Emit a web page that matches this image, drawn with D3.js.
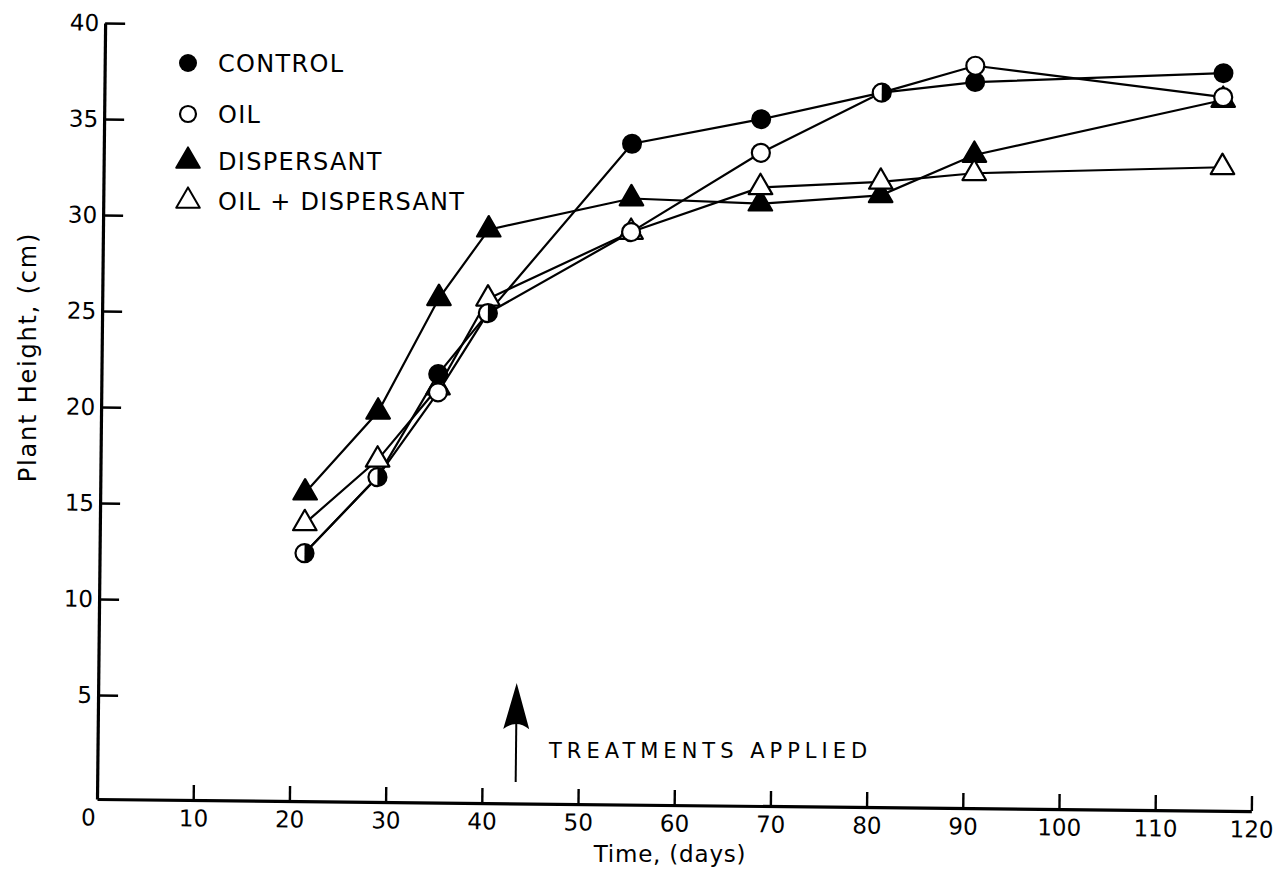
<!DOCTYPE html>
<html>
<head>
<meta charset="utf-8">
<script src="https://cdn.jsdelivr.net/npm/d3@7"></script>
<style>
  html, body { margin: 0; padding: 0; background: #fff; }
  svg { display: block; }
  text { font-family: "DejaVu Sans", "Liberation Sans", Arial, sans-serif; fill: #000; }
</style>
</head>
<body>
<svg id="chart" width="1277" height="882"></svg>
<script>
// ---- data ----
const days = [21.3, 28.8, 35.0, 40.1, 54.9, 68.3, 80.8, 90.5, 116.3];
const control = [12.5, 16.5, 21.9, 25.1, 34.0, 35.35, 36.8, 37.4, 38.0];
const oil = [12.5, 16.5, 20.95, 25.1, 29.4, 33.6, 36.8, 38.25, 36.75];
const dispersant = [15.65, 19.9, 25.85, 29.45, 31.15, 30.95, 31.45, 33.6, 36.6];
const oilDispersant = [14.05, 17.4, 21.2, 25.85, 29.4, 31.8, 32.15, 32.65, 33.1];
const seriesNames = ["CONTROL", "OIL", "DISPERSANT", "OIL + DISPERSANT"];
const xTicks = [0, 10, 20, 30, 40, 50, 60, 70, 80, 90, 100, 110, 120];
const yTicks = [5, 10, 15, 20, 25, 30, 35, 40];
const treatmentDay = 43.5;
const treatmentArrow = [0.7, 5.85];
const treatmentLabel = "TREATMENTS APPLIED";
const xTitle = "Time, (days)";
const yTitle = "Plant Height,  (cm)";

// ---- layout ----
const FONT = "DejaVu Sans, Liberation Sans, Arial, sans-serif";
const svg = d3.select("#chart");
const originX = 97, originY = 799, tilt = 0.6;
const x = d3.scaleLinear().domain([0, 120]).range([0, 1154.4]);
const y = d3.scaleLinear().domain([-0.4167, 40]).range([0, -776]);

const g = svg.append("g").attr("transform", `translate(${originX},${originY}) rotate(${tilt})`);

// axes
const yAxis = d3.axisLeft(y).tickValues(yTicks).tickSizeInner(-20).tickSizeOuter(0).tickPadding(6).tickFormat(d3.format("d"));
const xAxis = d3.axisBottom(x).tickValues(xTicks).tickSizeInner(-15).tickSizeOuter(0).tickPadding(10).tickFormat(d3.format("d"));

const gy = g.append("g").call(yAxis);
const gx = g.append("g").call(xAxis);
[gx, gy].forEach(a => {
  a.select(".domain").attr("stroke", "#000").attr("stroke-width", 3.2);
  a.selectAll(".tick line").attr("stroke", "#000").attr("stroke-width", 2.4);
  a.selectAll(".tick text").attr("font-size", 23).attr("letter-spacing", 0)
    .attr("font-family", FONT).attr("fill", "#000");
});
const zeroTick = gx.selectAll(".tick").filter(d => d === 0);
zeroTick.select("line").remove();
zeroTick.select("text").attr("x", -9);

// lines
const line = d3.line().x((d, i) => x(days[i])).y(d => y(d));
const allSeries = [dispersant, oilDispersant, control, oil];
g.selectAll("path.series").data(allSeries).enter().append("path")
  .attr("class", "series").attr("d", line)
  .attr("fill", "none").attr("stroke", "#000").attr("stroke-width", 2.2);

// markers
const r = 9;
const tri = d3.symbol().type(d3.symbolTriangle).size(240);
function triangles(vals, fill) {
  g.append("g").selectAll("path").data(vals).enter().append("path")
    .attr("d", tri)
    .attr("transform", (d, i) => `translate(${x(days[i])},${y(d)}) rotate(${-tilt})`)
    .attr("fill", fill).attr("stroke", "#000").attr("stroke-width", 2.2).attr("stroke-linejoin", "round");
}
triangles(dispersant, "#000");
triangles(oilDispersant, "#fff");

const same = control.map((v, i) => Math.abs(v - oil[i]) < 0.2);
const cg = g.append("g");
cg.selectAll("circle").data(control.map((v, i) => ({ v, i })).filter(d => !same[d.i])).enter().append("circle")
  .attr("cx", d => x(days[d.i])).attr("cy", d => y(d.v)).attr("r", r)
  .attr("fill", "#000").attr("stroke", "#000").attr("stroke-width", 2);
const og = g.append("g");
og.selectAll("circle").data(oil.map((v, i) => ({ v, i })).filter(d => !same[d.i])).enter().append("circle")
  .attr("cx", d => x(days[d.i])).attr("cy", d => y(d.v)).attr("r", r)
  .attr("fill", "#fff").attr("stroke", "#000").attr("stroke-width", 2.2);
const half = d3.arc().innerRadius(0).outerRadius(r).startAngle(0).endAngle(Math.PI);
const hg = g.append("g").selectAll("g").data(control.map((v, i) => ({ v, i })).filter(d => same[d.i])).enter().append("g")
  .attr("transform", d => `translate(${x(days[d.i])},${y(d.v)})`);
hg.append("circle").attr("r", r).attr("fill", "#fff").attr("stroke", "#000").attr("stroke-width", 2.2);
hg.append("path").attr("d", half()).attr("fill", "#000");

// treatment arrow
const ax = x(treatmentDay);
const yTip = y(treatmentArrow[1]);
const yBase = y(treatmentArrow[0]);
g.append("line").attr("x1", ax).attr("x2", ax).attr("y1", yBase).attr("y2", yTip + 30)
  .attr("stroke", "#000").attr("stroke-width", 2);
g.append("path")
  .attr("d", `M${ax},${yTip} L${ax + 13},${yTip + 46} Q${ax},${yTip + 36} ${ax - 13},${yTip + 46} Z`)
  .attr("fill", "#000");
svg.append("text").attr("x", 549).attr("y", 758).attr("font-size", 21).attr("letter-spacing", 5)
  .attr("font-family", FONT).text(treatmentLabel);

// axis titles
svg.append("text").attr("x", 670).attr("y", 862).attr("text-anchor", "middle").attr("font-family", FONT)
  .attr("font-size", 23).attr("letter-spacing", 0.8).text(xTitle);
svg.append("text").attr("transform", "translate(36,357) rotate(-90)").attr("text-anchor", "middle").attr("font-family", FONT)
  .attr("font-size", 24).attr("letter-spacing", 1.8).text(yTitle);

// legend
const legendY = [63, 114, 161, 201];
const lg = svg.append("g");
seriesNames.forEach((name, i) => {
  const cy = legendY[i];
  if (i === 0) lg.append("circle").attr("cx", 188).attr("cy", cy).attr("r", 9).attr("fill", "#000");
  if (i === 1) lg.append("circle").attr("cx", 188).attr("cy", cy).attr("r", 8).attr("fill", "#fff").attr("stroke", "#000").attr("stroke-width", 2.2);
  if (i === 2) lg.append("path").attr("d", tri).attr("transform", `translate(188,${cy})`).attr("fill", "#000").attr("stroke", "#000").attr("stroke-width", 2).attr("stroke-linejoin", "round");
  if (i === 3) lg.append("path").attr("d", tri).attr("transform", `translate(188,${cy})`).attr("fill", "#fff").attr("stroke", "#000").attr("stroke-width", 2).attr("stroke-linejoin", "round");
  lg.append("text").attr("x", 218).attr("y", cy + 9).attr("font-size", 24).attr("letter-spacing", 1.3)
    .attr("font-family", FONT).text(name);
});
</script>
</body>
</html>
